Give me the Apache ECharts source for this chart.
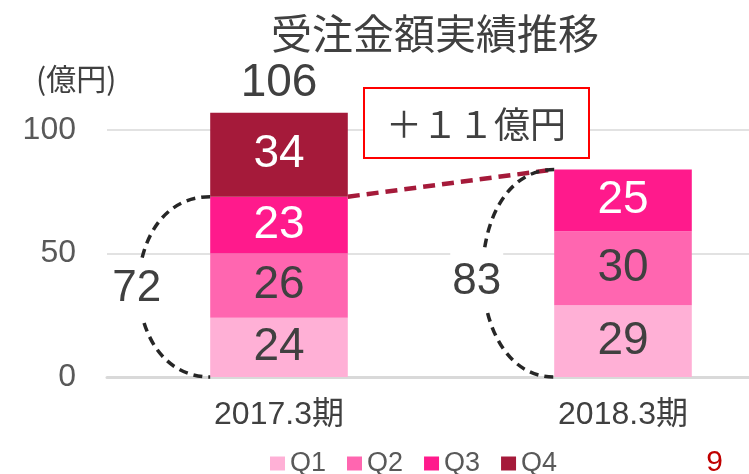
<!DOCTYPE html>
<html><head><meta charset="utf-8">
<script src="https://cdn.jsdelivr.net/npm/echarts@6/dist/echarts.min.js"></script>
<style>html,body{margin:0;padding:0;background:#fff}#c{width:749px;height:474px}</style>
</head><body><div id="c"></div>
<script>
const categories = ['2017.3期', '2018.3期'];
const q1 = [24, 29];
const q2 = [26, 30];
const q3 = [23, 25];
const q4 = [34, null];
const q3CumLabels = [72, 83];      // 上期〜Q3累計 (表示値)
const totalLabels = [106, null];   // 通期合計 (表示値)
const yTicks = [0, 50, 100];
const diffText = '＋１１億円';

const FONT = "'Liberation Sans','Noto Sans CJK JP',sans-serif";
const JP = "'Noto Sans CJK JP','Liberation Sans',sans-serif";
const colors = ['#ffb0d6', '#ff66b0', '#ff1a8c', '#a51a3a'];
const BAR_RATIO = 0.4;

function barSeries(name, data, color, labelColor) {
  return {
    name, type: 'bar', stack: 'total', data, barWidth: (BAR_RATIO * 100) + '%',
    clip: false, itemStyle: { color },
    label: { show: true, position: 'inside', color: labelColor, fontSize: 46, fontFamily: FONT,
      formatter: p => p.value == null ? '' : String(p.value) },
    emphasis: { disabled: true }
  };
}

const cumTop = categories.map((c, i) => q1[i] + q2[i] + q3[i]);

const chart = echarts.init(document.getElementById('c'), null, { renderer: 'canvas' });
chart.setOption({
  animation: false,
  backgroundColor: '#fff',
  title: { text: '受注金額実績推移', left: 430, top: 8, textAlign: 'center',
    textStyle: { fontSize: 41, fontWeight: 'normal', color: '#404040', fontFamily: JP } },
  grid: { left: 107, right: -46, top: 130, bottom: 97, containLabel: false, outerBoundsMode: 'none' },
  legend: { data: ['Q1', 'Q2', 'Q3', 'Q4'], left: 270, top: 450, padding: 0, icon: 'rect',
    itemWidth: 15, itemHeight: 14, itemGap: 21,
    textStyle: { fontSize: 27, color: '#595959', fontFamily: FONT } },
  xAxis: { type: 'category', data: categories,
    axisLine: { lineStyle: { color: '#d9d9d9', width: 3 } }, axisTick: { show: false },
    axisLabel: { fontSize: 32, color: '#404040', margin: 22, fontFamily: FONT } },
  yAxis: { type: 'value', min: yTicks[0], max: yTicks[yTicks.length - 1], interval: yTicks[1] - yTicks[0],
    axisLine: { show: false }, axisTick: { show: false },
    splitLine: { lineStyle: { color: '#d9d9d9', width: 1.5 } },
    axisLabel: { fontSize: 32, color: '#595959', margin: 31, fontFamily: FONT } },
  graphic: [
    { type: 'text', left: 36, top: 64, style: { text: '(億円)', fontSize: 30, fill: '#404040', fontFamily: JP } },
    { type: 'rect', shape: { x: 364, y: 88, width: 225, height: 70 }, style: { fill: '#fff', stroke: '#ff0000', lineWidth: 2 }, z: 10 },
    { type: 'text', x: 476, y: 124, style: { text: diffText, fontSize: 36, fill: '#404040', fontFamily: JP, align: 'center', verticalAlign: 'middle' }, z: 11 },
    { type: 'text', right: 26, top: 448, style: { text: '9', fontSize: 30, fill: '#c00000', fontFamily: FONT } }
  ],
  series: [
    barSeries('Q1', q1, colors[0], '#404040'),
    barSeries('Q2', q2, colors[1], '#404040'),
    barSeries('Q3', q3, colors[2], '#ffffff'),
    barSeries('Q4', q4, colors[3], '#ffffff'),
    {
      type: 'custom', name: 'connector', z: 3, silent: true,
      data: [[0, cumTop[0], 1, cumTop[1]]],
      encode: { x: 0, y: 1 },
      renderItem(params, api) {
        const a = api.coord([api.value(0), api.value(1)]);
        const b = api.coord([api.value(2), api.value(3)]);
        const half = api.size([1, 0])[0] * BAR_RATIO / 2;
        return { type: 'line', shape: { x1: a[0] + half, y1: a[1], x2: b[0] - half, y2: b[1] },
          style: { stroke: '#a51a3a', lineWidth: 4.5, lineDash: [12, 7] } };
      }
    },
    {
      type: 'custom', name: 'bracket', z: 4, silent: true,
      data: categories.map((c, i) => [i, cumTop[i], q3CumLabels[i]]),
      encode: { x: 0, y: 1 },
      renderItem(params, api) {
        const i = api.value(0);
        const top = api.coord([i, api.value(1)]);
        const bot = api.coord([i, 0]);
        const band = api.size([1, 0])[0];
        const xl = top[0] - band * BAR_RATIO / 2;
        const bulge = band * 0.277;
        const midY = (top[1] + bot[1]) / 2;
        return { type: 'group', children: [
          { type: 'bezierCurve', shape: { x1: xl, y1: top[1], cpx1: xl - bulge, cpy1: top[1], cpx2: xl - bulge, cpy2: bot[1], x2: xl, y2: bot[1] },
            style: { stroke: '#262626', lineWidth: 3.5, lineDash: [9, 6], fill: null } },
          { type: 'text', x: xl - bulge * 0.75 - 2 - i * 4, y: midY + 2 + i * 7,
            style: { text: String(api.value(2)), fontSize: 44, fill: '#404040', fontFamily: FONT,
              align: 'center', verticalAlign: 'middle', backgroundColor: '#fff', padding: [8, 2, 8, 2] } }
        ] };
      }
    },
    {
      type: 'custom', name: 'total', z: 5, silent: true,
      data: categories.map((c, i) => [i, q1[i] + q2[i] + q3[i] + (q4[i] || 0), totalLabels[i]]).filter(d => d[2] != null),
      encode: { x: 0, y: 1 },
      renderItem(params, api) {
        const p = api.coord([api.value(0), api.value(1)]);
        return { type: 'text', x: p[0], y: p[1] - 6,
          style: { text: String(api.value(2)), fontSize: 46, fill: '#404040', fontFamily: FONT, align: 'center', verticalAlign: 'bottom' } };
      }
    }
  ]
});
</script></body></html>
